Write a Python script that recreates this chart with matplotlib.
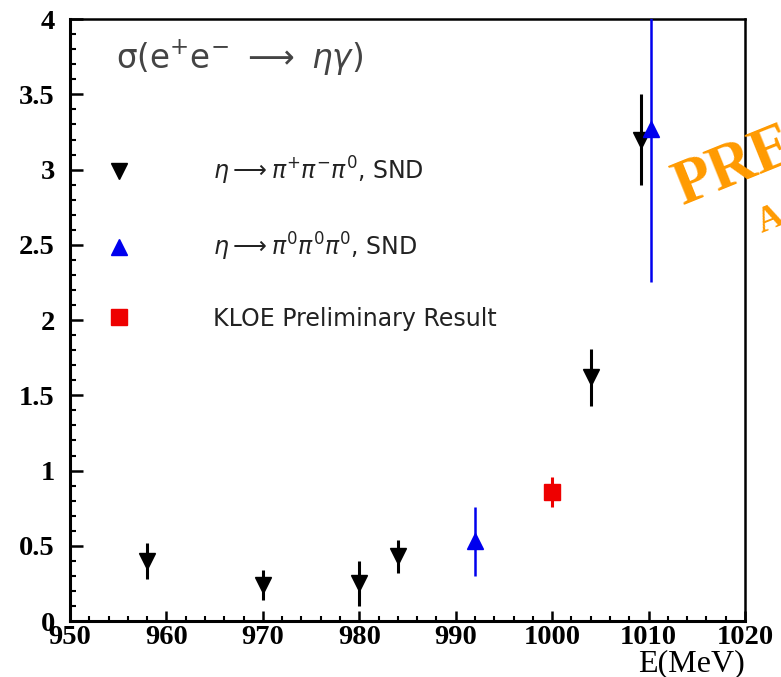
import matplotlib
matplotlib.use("Agg")
import matplotlib.pyplot as plt
from matplotlib.lines import Line2D
from matplotlib.ticker import MultipleLocator, FormatStrFormatter

plt.rcParams["mathtext.fontset"] = "dejavusans"

# SND, eta -> pi+ pi- pi0
snd_c_e = [958, 970, 980, 984, 1004, 1009.2]
snd_c_y = [0.40, 0.24, 0.25, 0.43, 1.62, 3.20]
snd_c_err = [0.12, 0.10, 0.15, 0.11, 0.19, 0.30]

# SND, eta -> 3 pi0
snd_n_e = [992, 1010.3]
snd_n_y = [0.53, 3.27]
snd_n_err = [0.23, 1.02]

# KLOE preliminary
kloe_e = [1000]
kloe_y = [0.86]
kloe_err = [0.10]

labels = [
    r"$\eta\longrightarrow\pi^{+}\pi^{-}\pi^{0}$, SND",
    r"$\eta\longrightarrow\pi^{0}\pi^{0}\pi^{0}$, SND",
    "KLOE Preliminary Result",
]

fig = plt.figure(figsize=(7.81, 6.77), dpi=100)
ax = fig.add_axes([0.0896, 0.0827, 0.8643, 0.889])

ax.errorbar(snd_c_e, snd_c_y, yerr=snd_c_err, fmt="v", color="black",
            ms=12, elinewidth=2.2, capsize=0, zorder=3)
ax.errorbar(snd_n_e, snd_n_y, yerr=snd_n_err, fmt="^", color="#0000ee",
            ms=12, elinewidth=1.8, capsize=0, zorder=4)
ax.errorbar(kloe_e, kloe_y, yerr=kloe_err, fmt="s", color="#ee0000",
            ms=12, elinewidth=2.2, capsize=0, zorder=4)

ax.set_xlim(950, 1020)
ax.set_ylim(0, 4)

ax.xaxis.set_major_locator(MultipleLocator(10))
ax.xaxis.set_minor_locator(MultipleLocator(2))
ax.yaxis.set_major_locator(MultipleLocator(0.5))
ax.yaxis.set_minor_locator(MultipleLocator(0.1))
ax.yaxis.set_major_formatter(FormatStrFormatter("%g"))

ax.tick_params(axis="both", which="both", direction="in", top=False, right=False)
ax.tick_params(axis="y", which="major", length=9.5, width=1.8, pad=11)
ax.tick_params(axis="y", which="minor", length=4.5, width=1.5)
ax.tick_params(axis="x", which="major", length=7, width=1.8, pad=3)
ax.tick_params(axis="x", which="minor", length=3.5, width=1.5)
for lab in ax.get_xticklabels() + ax.get_yticklabels():
    lab.set_family("Liberation Serif")
    lab.set_weight("bold")
    lab.set_fontsize(20.5)

for side in ["left", "bottom"]:
    ax.spines[side].set_linewidth(2.2)
for side in ["top", "right"]:
    ax.spines[side].set_linewidth(1.8)

ax.set_xlabel("E(MeV)", loc="right", family="Liberation Serif", fontsize=23,
              labelpad=-1)

ax.text(0.068, 0.935,
        r"$\mathrm{\sigma}(\mathrm{e}^{+}\mathrm{e}^{-}\ \longrightarrow\ \eta\gamma)$",
        transform=ax.transAxes, fontsize=23.5, color="#444444", va="center")

handles = [
    Line2D([], [], ls="none", marker="v", color="black", ms=12),
    Line2D([], [], ls="none", marker="^", color="#0000ee", ms=12),
    Line2D([], [], ls="none", marker="s", color="#ee0000", ms=12),
]
leg = ax.legend(handles, labels, loc="upper left", bbox_to_anchor=(0.033, 0.794),
                frameon=False, fontsize=17, handlelength=1.3,
                handletextpad=3.3, labelspacing=1.85, borderpad=0)
for t in leg.get_texts():
    t.set_color("#222222")

# watermark running off the right edge
fig.text(0.8745, 0.697, "PRELIMINARY", rotation=22, rotation_mode="anchor",
         ha="left", va="baseline", color="#ff9a00", fontsize=45,
         weight="bold", family="Liberation Serif")
fig.text(0.9757, 0.656, "A", rotation=22, rotation_mode="anchor",
         ha="left", va="baseline", color="#ff9a00", fontsize=26,
         weight="bold", family="Liberation Serif")

fig.savefig("out.png", dpi=100)
